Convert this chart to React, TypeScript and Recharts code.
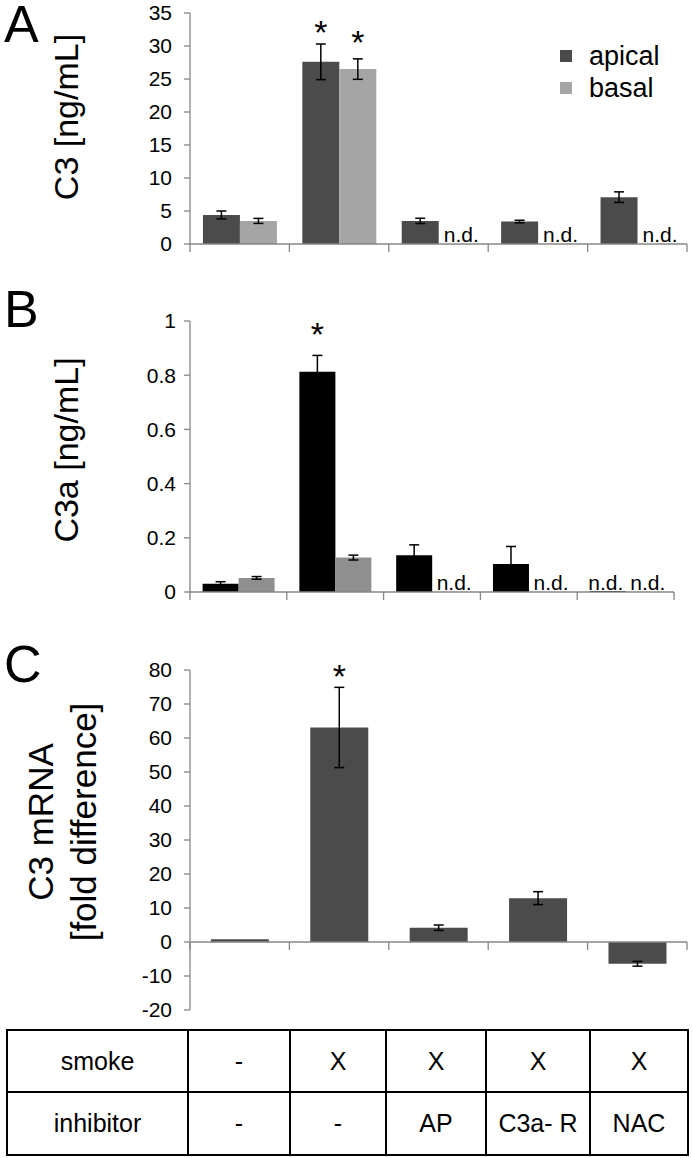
import React from 'react';
import { BarChart, Bar, XAxis, YAxis, ErrorBar, LabelList, ReferenceLine, Legend } from 'recharts';

const FONT = '"Liberation Sans", Arial, Helvetica, sans-serif';
const AXIS = '#868686';

// Categories (treatment groups) and table rows
const groups = ['control', 'smoke', 'smoke + AP', 'smoke + C3a-R', 'smoke + NAC'];
const rowLabels = ['smoke', 'inhibitor'];
const smokeRow = ['-', 'X', 'X', 'X', 'X'];
const inhibitorRow = ['-', '-', 'AP', 'C3a- R', 'NAC'];

// Panel A: C3 [ng/mL]
const c3Apical = [4.4, 27.6, 3.5, 3.4, 7.1];
const c3ApicalErr = [0.6, 2.7, 0.4, 0.2, 0.8];
const c3Basal: (number | null)[] = [3.5, 26.5, null, null, null];
const c3BasalErr: (number | null)[] = [0.38, 1.55, null, null, null];
const c3ApicalSig = [false, true, false, false, false];
const c3BasalSig = [false, true, false, false, false];
const c3ApicalND = [false, false, false, false, false];
const c3BasalND = [false, false, true, true, true];
const c3Ticks = [0, 5, 10, 15, 20, 25, 30, 35];

// Panel B: C3a [ng/mL]
const c3aApical = [0.03, 0.813, 0.136, 0.103, 0.004];
const c3aApicalErr = [0.008, 0.06, 0.038, 0.065, 0];
const c3aBasal: (number | null)[] = [0.052, 0.127, null, null, null];
const c3aBasalErr: (number | null)[] = [0.005, 0.009, null, null, null];
const c3aApicalSig = [false, true, false, false, false];
const c3aApicalND = [false, false, false, false, true];
const c3aBasalND = [false, false, true, true, true];
const c3aTicks = [0, 0.2, 0.4, 0.6, 0.8, 1];

// Panel C: C3 mRNA [fold difference]
const mrna = [0.8, 63.1, 4.2, 12.9, -6.4];
const mrnaErr: (number | null)[] = [null, 11.8, 0.8, 1.9, 0.7];
const mrnaSig = [false, true, false, false, false];
const mrnaTicks = [-20, -10, 0, 10, 20, 30, 40, 50, 60, 70, 80];

const dataA = groups.map((g, i) => ({
  group: g,
  apical: c3Apical[i],
  apicalErr: c3ApicalErr[i],
  basal: c3Basal[i],
  basalErr: c3BasalErr[i],
}));
const dataB = groups.map((g, i) => ({
  group: g,
  apical: c3aApical[i],
  apicalErr: c3aApicalErr[i],
  basal: c3aBasal[i],
  basalErr: c3aBasalErr[i],
}));
const dataC = groups.map((g, i) => ({ group: g, value: mrna[i], err: mrnaErr[i] }));

type MarkOpts = {
  values: (number | null)[];
  err: (number | null)[];
  sig?: boolean[];
  ndSelf?: boolean[];
  ndNext?: boolean[];
  starGap: number;
};

const marks = (o: MarkOpts) => (props: any) => {
  const vb = props.viewBox ?? props;
  const x = Number(vb.x);
  const y = Number(vb.y);
  const w = Number(vb.width);
  const h = Number(vb.height);
  const i = props.index;
  const v = o.values[i];
  if (v == null || !isFinite(x) || !isFinite(y)) return null;
  const zeroY = y + h;
  const ppu = v !== 0 ? h / v : 0;
  const out: React.ReactNode[] = [];
  if (o.sig && o.sig[i]) {
    const e = o.err[i] ?? 0;
    const top = zeroY - (v + e) * ppu;
    const fs = 34;
    out.push(
      <text key="s" x={x + w / 2} y={top - o.starGap + 0.59 * fs} textAnchor="middle" fontSize={fs} fontFamily={FONT} fill="#000">
        *
      </text>
    );
  }
  if (o.ndSelf && o.ndSelf[i]) {
    out.push(
      <text key="a" x={x + w / 2 - 2} y={zeroY - 2} textAnchor="middle" fontSize={21} fontFamily={FONT} fill="#000">
        n.d.
      </text>
    );
  }
  if (o.ndNext && o.ndNext[i]) {
    out.push(
      <text key="b" x={x + w * 1.5 + 4} y={zeroY - 2} textAnchor="middle" fontSize={21} fontFamily={FONT} fill="#000">
        n.d.
      </text>
    );
  }
  return <g>{out}</g>;
};

const baseline = (n: number) => (p: any) => {
  const x1 = Number(p.x1);
  const x2 = Number(p.x2);
  const y1 = Number(p.y1);
  if (!isFinite(x1) || !isFinite(x2) || !isFinite(y1)) return <g />;
  const step = (x2 - x1) / n;
  return (
    <g>
      <line x1={x1} y1={y1} x2={x2} y2={y1} stroke={AXIS} strokeWidth={1.3} />
      {groups.map((_, k) => (
        <line key={k} x1={x1 + k * step} x2={x1 + k * step} y1={y1} y2={y1 + 8} stroke={AXIS} strokeWidth={1.3} />
      ))}
      <line x1={x2} x2={x2} y1={y1} y2={y1 + 8} stroke={AXIS} strokeWidth={1.3} />
    </g>
  );
};

const legendContent = (props: any) => (
  <div style={{ fontFamily: FONT, fontSize: 27, color: '#000' }}>
    {(props.payload ?? []).map((p: any) => (
      <div key={p.value} style={{ display: 'flex', alignItems: 'center', height: 32 }}>
        <span style={{ width: 12, height: 12, background: p.color, marginRight: 17, display: 'inline-block' }} />
        <span>{p.value}</span>
      </div>
    ))}
  </div>
);

const yAxisProps = (tickMargin: number) => ({
  width: 190,
  interval: 0 as const,
  tickSize: 6,
  tickMargin,
  axisLine: { stroke: AXIS, strokeWidth: 1.3 },
  tickLine: { stroke: AXIS, strokeWidth: 1.3 },
  tick: { fill: '#000', fontSize: 21, fontFamily: FONT },
});

const letterStyle = (top: number): React.CSSProperties => ({
  position: 'absolute',
  left: 4,
  top,
  fontSize: 52,
  lineHeight: '52px',
  fontFamily: FONT,
  color: '#000',
});

const rotLabel = (cx: number, cy: number, fs: number, lh: number): React.CSSProperties => ({
  position: 'absolute',
  left: cx,
  top: cy,
  transform: 'translate(-50%, -50%) rotate(-90deg)',
  whiteSpace: 'nowrap',
  fontSize: fs,
  lineHeight: `${lh}px`,
  fontFamily: FONT,
  color: '#000',
  textAlign: 'center',
});

const cellStyle: React.CSSProperties = {
  border: '2px solid #000',
  textAlign: 'center',
  verticalAlign: 'middle',
  padding: 0,
  fontSize: 25,
  fontFamily: FONT,
};

const colWidths = [181, 102, 96, 100, 104, 98];

export default function App() {
  return (
    <div style={{ position: 'absolute', left: 0, top: 0, width: 693, height: 1158, background: '#fff', overflow: 'hidden' }}>
      {/* Panel A */}
      <div style={letterStyle(-2)}>A</div>
      <div style={rotLabel(66, 117, 34, 38)}>C3 [ng/mL]</div>
      <div style={{ position: 'absolute', left: 0, top: 0 }}>
        <BarChart width={693} height={260} data={dataA} margin={{ top: 13, right: 6, bottom: 16, left: 0 }} barCategoryGap="13%" barGap={0}>
          <XAxis dataKey="group" hide />
          <YAxis domain={[0, 35]} ticks={c3Ticks} {...yAxisProps(12)} />
          <Bar dataKey="apical" name="apical" fill="#4b4b4b" isAnimationActive={false}>
            <ErrorBar dataKey="apicalErr" width={5} stroke="#000" strokeWidth={1.5} direction="y" />
            <LabelList content={marks({ values: c3Apical, err: c3ApicalErr, sig: c3ApicalSig, ndSelf: c3ApicalND, ndNext: c3BasalND, starGap: 20 })} />
          </Bar>
          <Bar dataKey="basal" name="basal" fill="#a5a5a5" isAnimationActive={false}>
            <ErrorBar dataKey="basalErr" width={5} stroke="#000" strokeWidth={1.5} direction="y" />
            <LabelList content={marks({ values: c3Basal, err: c3BasalErr, sig: c3BasalSig, starGap: 25 })} />
          </Bar>
          <ReferenceLine y={0} shape={baseline(groups.length)} />
          <Legend layout="vertical" align="center" verticalAlign="middle" wrapperStyle={{ left: 560, top: 40, width: 130 }} content={legendContent} />
        </BarChart>
      </div>

      {/* Panel B */}
      <div style={letterStyle(283)}>B</div>
      <div style={rotLabel(66, 450, 34, 38)}>C3a [ng/mL]</div>
      <div style={{ position: 'absolute', left: 0, top: 270 }}>
        <BarChart width={693} height={340} data={dataB} margin={{ top: 51, right: 19, bottom: 18, left: 0 }} barCategoryGap="13%" barGap={0}>
          <XAxis dataKey="group" hide />
          <YAxis domain={[0, 1]} ticks={c3aTicks} {...yAxisProps(8)} />
          <Bar dataKey="apical" name="apical" fill="#000000" isAnimationActive={false}>
            <ErrorBar dataKey="apicalErr" width={5} stroke="#000" strokeWidth={1.5} direction="y" />
            <LabelList content={marks({ values: c3aApical, err: c3aApicalErr, sig: c3aApicalSig, ndSelf: c3aApicalND, ndNext: c3aBasalND, starGap: 29 })} />
          </Bar>
          <Bar dataKey="basal" name="basal" fill="#8f8f8f" isAnimationActive={false}>
            <ErrorBar dataKey="basalErr" width={5} stroke="#000" strokeWidth={1.5} direction="y" />
          </Bar>
          <ReferenceLine y={0} shape={baseline(groups.length)} />
        </BarChart>
      </div>

      {/* Panel C */}
      <div style={letterStyle(638)}>C</div>
      <div style={rotLabel(62, 822, 35, 43)}>
        C3 mRNA
        <br />
        [fold difference]
      </div>
      <div style={{ position: 'absolute', left: 0, top: 620 }}>
        <BarChart width={693} height={410} data={dataC} margin={{ top: 50, right: 6, bottom: 20, left: 0 }} barCategoryGap="21%">
          <XAxis dataKey="group" hide />
          <YAxis domain={[-20, 80]} ticks={mrnaTicks} {...yAxisProps(12)} />
          <Bar dataKey="value" name="C3 mRNA" fill="#4b4b4b" isAnimationActive={false}>
            <ErrorBar dataKey="err" width={5} stroke="#000" strokeWidth={1.5} direction="y" />
            <LabelList content={marks({ values: mrna, err: mrnaErr, sig: mrnaSig, starGap: 19 })} />
          </Bar>
          <ReferenceLine y={0} shape={baseline(groups.length)} />
        </BarChart>
      </div>

      {/* Treatment table */}
      <table
        style={{
          position: 'absolute',
          left: 6,
          top: 1029,
          borderCollapse: 'collapse',
          tableLayout: 'fixed',
          width: colWidths.reduce((a, b) => a + b, 0),
        }}
      >
        <colgroup>
          {colWidths.map((w, i) => (
            <col key={i} style={{ width: w }} />
          ))}
        </colgroup>
        <tbody>
          {[smokeRow, inhibitorRow].map((row, r) => (
            <tr key={r} style={{ height: r === 0 ? 62 : 63 }}>
              <td style={cellStyle}>{rowLabels[r]}</td>
              {row.map((c, k) => (
                <td key={k} style={cellStyle}>
                  {c}
                </td>
              ))}
            </tr>
          ))}
        </tbody>
      </table>
    </div>
  );
}
